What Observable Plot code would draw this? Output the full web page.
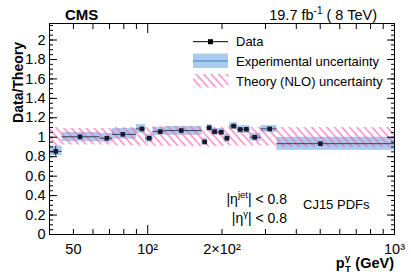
<!DOCTYPE html>
<html><head><meta charset="utf-8">
<script src="https://cdn.jsdelivr.net/npm/d3@7"></script>
<script src="https://cdn.jsdelivr.net/npm/@observablehq/plot@0.6"></script>
<style>
body{margin:0;background:#fff;}
#chart svg{font-family:"Liberation Sans",Arial,Helvetica,sans-serif;background:#fff;}
</style></head><body><div id="chart"></div>
<script>
// photon pT bins (GeV)
const binLo = [40, 45, 64, 72, 90, 98, 105, 117, 166, 174, 182, 192, 204, 215, 231, 244, 260, 288, 334];
const binHi = [45, 64, 72, 90, 98, 105, 117, 166, 174, 182, 192, 204, 215, 231, 244, 260, 288, 334, 1000];
const ptCenter = [42.4, 53.2, 68.3, 79.3, 94.7, 101.4, 112.4, 136.8, 170.3, 177.6, 186.6, 198.7, 209.6, 222.9, 237.3, 251, 271.3, 312.1, 501];
// Data / Theory ratio
const ratio = [0.855, 1.005, 0.99, 1.03, 1.086, 0.99, 1.058, 1.069, 0.952, 1.098, 1.058, 1.052, 0.99, 1.115, 1.08, 1.082, 1.0, 1.086, 0.934];
const statErr = [0.05, 0.012, 0.012, 0.012, 0.015, 0.012, 0.012, 0.01, 0.012, 0.012, 0.012, 0.012, 0.012, 0.012, 0.012, 0.012, 0.012, 0.012, 0.012];
// experimental uncertainty band
const expLo = [0.81, 0.955, 0.95, 0.98, 1.04, 0.95, 1.02, 1.02, 0.92, 1.06, 1.02, 1.02, 0.95, 1.08, 1.04, 1.04, 0.96, 1.05, 0.865];
const expHi = [0.91, 1.05, 1.04, 1.09, 1.13, 1.03, 1.10, 1.11, 0.99, 1.13, 1.09, 1.09, 1.03, 1.15, 1.12, 1.12, 1.04, 1.12, 1.0];
// theory (NLO) uncertainty band
const theoryLo = [0.91, 0.92, 0.92, 0.91, 0.91, 0.91, 0.91, 0.905, 0.90, 0.90, 0.905, 0.905, 0.91, 0.91, 0.91, 0.91, 0.91, 0.91, 0.895];
const theoryHi = [1.10, 1.09, 1.09, 1.10, 1.10, 1.10, 1.11, 1.11, 1.10, 1.10, 1.10, 1.10, 1.10, 1.10, 1.10, 1.10, 1.10, 1.10, 1.10];

const xTickValues = [50, 100, 200, 1000];
const xTickLabels = ["50", "10²", "2×10²", "10³"];
const xMajorTicks = [100, 1000];
const xMinorTicks = [40, 50, 60, 70, 80, 90, 200, 300, 400, 500, 600, 700, 800, 900];
const yTickValues = [0, 0.2, 0.4, 0.6, 0.8, 1, 1.2, 1.4, 1.6, 1.8, 2];
const yTickLabels = ["0", "0.2", "0.4", "0.6", "0.8", "1", "1.2", "1.4", "1.6", "1.8", "2"];
const yMinorTicks = d3.range(0, 2.16, 0.05).map(v => +v.toFixed(2));

const rows = binLo.map((lo, i) => ({
  lo, hi: binHi[i], x: ptCenter[i], y: ratio[i],
  s1: ratio[i] - statErr[i], s2: ratio[i] + statErr[i],
  e1: expLo[i], e2: expHi[i], t1: theoryLo[i], t2: theoryHi[i]
}));

const blue = "#a9cbed";
const pink = "#ff5cb0";
const font = "Liberation Sans, Arial, Helvetica, sans-serif";

const chart = Plot.plot({
  width: 411, height: 279,
  marginLeft: 49, marginRight: 17, marginTop: 23, marginBottom: 45,
  style: {fontFamily: font, background: "#fff"},
  x: {type: "log", domain: [40, 1000]},
  y: {domain: [0, 2.17]},
  marks: [
    Plot.rect(rows, {x1: "lo", x2: "hi", y1: "e1", y2: "e2", fill: blue}),
    Plot.rect(rows, {x1: "lo", x2: "hi", y1: "t1", y2: "t2", fill: "url(#hatch)"}),
    Plot.ruleY(rows, {x1: "lo", x2: "hi", y: "y", stroke: "#3a3f55", strokeWidth: 1}),
    Plot.ruleX(rows, {x: "x", y1: "s1", y2: "s2", stroke: "#1a1f30", strokeWidth: 1}),
    Plot.dot(rows, {x: "x", y: "y", symbol: "square", r: 2.6, fill: "#131a2c", stroke: "none"}),
    // y axes
    Plot.axisY({anchor: "left", ticks: yTickValues, tickSize: 0, tickPadding: 4, fontSize: 14.5,
      tickFormat: d => yTickLabels[yTickValues.indexOf(d)], label: null, fill: "#000"}),
    Plot.axisY({anchor: "left", ticks: yTickValues, tickSize: -8, fill: "none", label: null, stroke: "#000"}),
    Plot.axisY({anchor: "left", ticks: yMinorTicks, tickSize: -4, fill: "none", label: null, stroke: "#000"}),
    Plot.axisY({anchor: "right", ticks: yTickValues, tickSize: -8, fill: "none", label: null, stroke: "#000"}),
    Plot.axisY({anchor: "right", ticks: yMinorTicks, tickSize: -4, fill: "none", label: null, stroke: "#000"}),
    // x axes
    Plot.axisX({anchor: "bottom", ticks: xTickValues, tickSize: 0, tickPadding: 9, fontSize: 14.5,
      tickFormat: d => xTickLabels[xTickValues.indexOf(d)], label: null, fill: "#000"}),
    Plot.axisX({anchor: "bottom", ticks: xMajorTicks, tickSize: -9, fill: "none", label: null, stroke: "#000"}),
    Plot.axisX({anchor: "bottom", ticks: xMinorTicks, tickSize: -5, fill: "none", label: null, stroke: "#000"}),
    Plot.axisX({anchor: "top", ticks: xMajorTicks, tickSize: -9, fill: "none", label: null, stroke: "#000"}),
    Plot.axisX({anchor: "top", ticks: xMinorTicks, tickSize: -5, fill: "none", label: null, stroke: "#000"}),
    Plot.frame({stroke: "#000", strokeWidth: 1})
  ]
});
document.getElementById("chart").appendChild(chart);

const svg = d3.select(chart);
const defs = svg.insert("defs", ":first-child");
const pat = defs.append("pattern").attr("id", "hatch")
  .attr("patternUnits", "userSpaceOnUse").attr("width", 5.6).attr("height", 5.6)
  .attr("patternTransform", "rotate(-42)");
pat.append("line").attr("x1", 1).attr("y1", 0).attr("x2", 1).attr("y2", 5.6)
  .attr("stroke", pink).attr("stroke-width", 1.1);

const g = svg.append("g").attr("font-family", font).attr("fill", "#000").attr("text-anchor", "start");

// header
g.append("text").attr("x", 65).attr("y", 20).attr("font-size", 15).attr("font-weight", "bold").text("CMS");
const lumi = g.append("text").attr("x", 377).attr("y", 20).attr("font-size", 14.5).attr("text-anchor", "end");
lumi.append("tspan").text("19.7 fb");
lumi.append("tspan").attr("font-size", 10).attr("dy", -6).text("-1");
lumi.append("tspan").attr("dy", 6).text(" ( 8 TeV)");

// y title
g.append("text").attr("transform", "translate(23,42) rotate(-90)")
  .attr("text-anchor", "end").attr("font-size", 14).attr("font-weight", "bold").text("Data/Theory");

// x title  p_T^gamma (GeV)
const xt = g.append("g").attr("font-weight", "bold").attr("font-size", 14.5);
const tP = xt.append("text").attr("y", 268).text("p");
const tSup = xt.append("text").attr("y", 261).attr("font-size", 9.5).text("γ");
const tSub = xt.append("text").attr("y", 272).attr("font-size", 9.5).text("T");
const tG = xt.append("text").attr("y", 268).text(" (GeV)");
const wP = tP.node().getComputedTextLength();
const wS = Math.max(tSup.node().getComputedTextLength(), tSub.node().getComputedTextLength());
const wG = tG.node().getComputedTextLength();
const x0 = 394 - (wP + wS + 1 + wG);
tP.attr("x", x0);
tSup.attr("x", x0 + wP + 0.5);
tSub.attr("x", x0 + wP + 0.5);
tG.attr("x", x0 + wP + wS + 1);

// legend
const L = g.append("g");
L.append("line").attr("x1", 193).attr("x2", 228).attr("y1", 41.7).attr("y2", 41.7).attr("stroke", "#000");
L.append("rect").attr("x", 208).attr("y", 39.2).attr("width", 5).attr("height", 5).attr("fill", "#000");
L.append("rect").attr("x", 193).attr("y", 53.5).attr("width", 35).attr("height", 14.5).attr("fill", blue);
L.append("line").attr("x1", 193).attr("x2", 228).attr("y1", 61).attr("y2", 61).attr("stroke", "#3f7fc8");
L.append("rect").attr("x", 193).attr("y", 74).attr("width", 35.5).attr("height", 13.5).attr("fill", "url(#hatch)");
L.append("text").attr("x", 236).attr("y", 46).attr("font-size", 13).text("Data");
L.append("text").attr("x", 236).attr("y", 66).attr("font-size", 13).text("Experimental uncertainty");
L.append("text").attr("x", 236).attr("y", 86).attr("font-size", 13).text("Theory (NLO) uncertainty");

// annotations
const a1 = g.append("text").attr("x", 287).attr("y", 204).attr("font-size", 14).attr("text-anchor", "end");
a1.append("tspan").text("|η");
a1.append("tspan").attr("font-size", 9.5).attr("dy", -6).text("jet");
a1.append("tspan").attr("dy", 6).text("| < 0.8");
const a2 = g.append("text").attr("x", 287).attr("y", 223).attr("font-size", 14).attr("text-anchor", "end");
a2.append("tspan").text("|η");
a2.append("tspan").attr("font-size", 9.5).attr("dy", -6).text("γ");
a2.append("tspan").attr("dy", 6).text("| < 0.8");
g.append("text").attr("x", 303).attr("y", 209).attr("font-size", 13).text("CJ15 PDFs");
</script></body></html>
